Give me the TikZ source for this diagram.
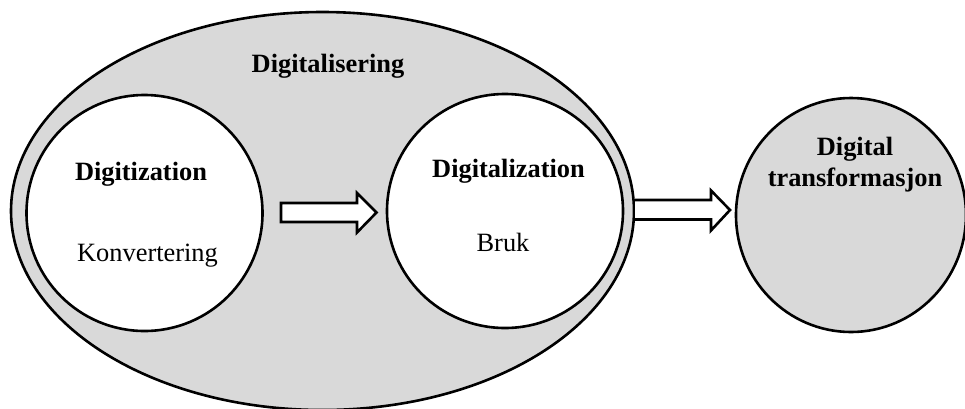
\documentclass[tikz,border=0pt]{standalone}
\usepackage{fontspec}
\setmainfont{Liberation Serif}
\definecolor{fillgrey}{HTML}{D9D9D9}
\tikzset{
  shapeline/.style={draw=black, line width=2.6pt},
  bigtxt/.style={anchor=base, inner sep=0pt, font=\fontsize{26.4}{30}\selectfont\bfseries},
  smalltxt/.style={anchor=base, inner sep=0pt, font=\fontsize{26.4}{30}\selectfont},
  blockarrow/.style={draw=black, line width=2.6pt, fill=white, line join=miter}
}
\begin{document}
\begin{tikzpicture}[x=1pt,y=-1pt]
\useasboundingbox (0,0) rectangle (965,408);
% outer ellipse
\draw[shapeline, fill=fillgrey] (322.5,211) ellipse [x radius=311.5, y radius=199];
% inner circles
\draw[shapeline, fill=white] (144.5,213) ellipse [x radius=118, y radius=118];
\draw[shapeline, fill=white] (505,211) ellipse [x radius=118, y radius=117];
% right circle
\draw[shapeline, fill=fillgrey] (851,215) ellipse [x radius=115, y radius=117];
% arrows
\draw[blockarrow] (281,203) -- (357,203) -- (357,193) -- (376.5,212.5) -- (357,232.5) -- (357,222) -- (281,222) -- cycle;
\draw[blockarrow] (635,200) -- (711,200) -- (711,190.5) -- (730,210) -- (711,230.5) -- (711,219.5) -- (635,219.5);
% texts
\node[bigtxt] (t0) at (328,72.3) {Digitalisering};
\node[bigtxt] (t1) at (141,180) {Digitization};
\node[smalltxt] (t2) at (147.5,261.5) {Konvertering};
\node[bigtxt] (t3) at (508.5,177.7) {Digitalization};
\node[smalltxt] (t4) at (503,251) {Bruk};
\node[bigtxt] (t5) at (855,155) {Digital};
\node[bigtxt] (t6) at (855,186) {transformasjon};
\end{tikzpicture}
\end{document}
